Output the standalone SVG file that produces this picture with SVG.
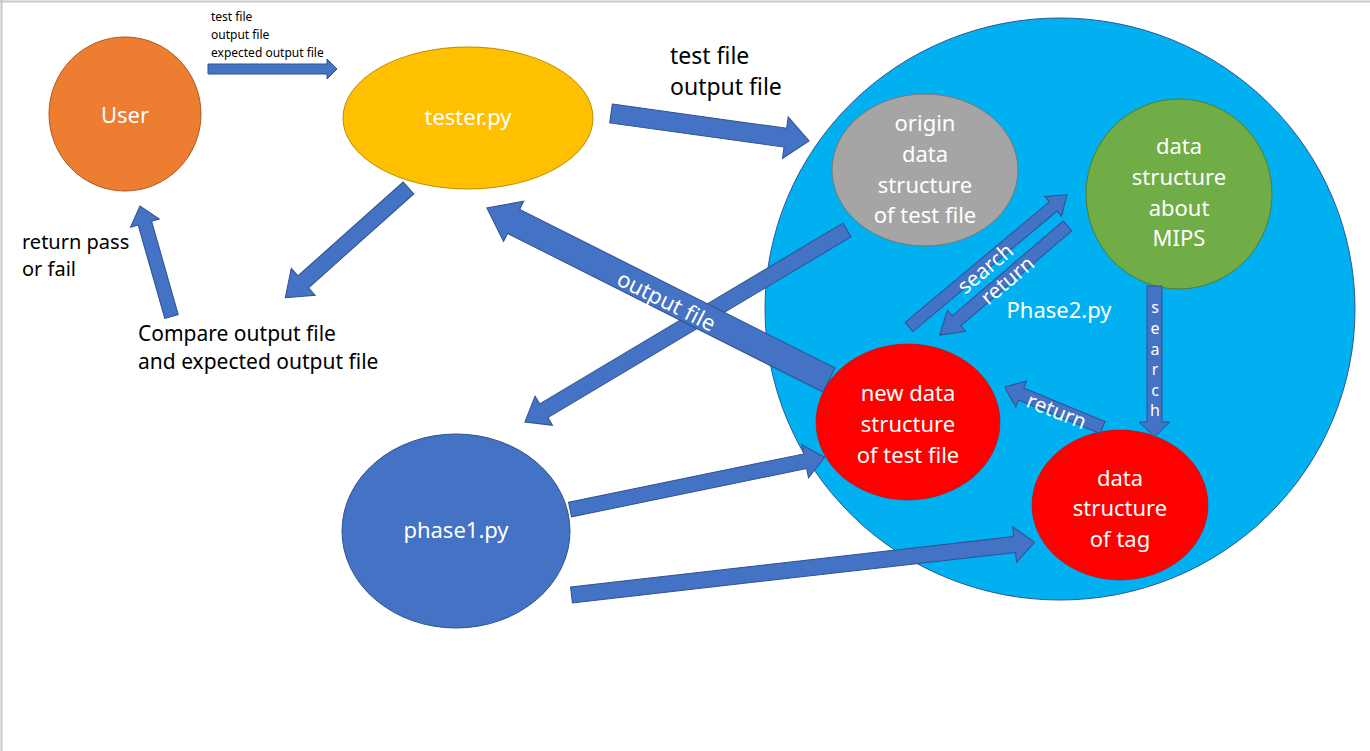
<svg xmlns="http://www.w3.org/2000/svg" width="1370" height="751" viewBox="0 0 1370 751">
<style>
  text { font-family: "Noto Sans", "Liberation Sans", sans-serif; }
  .nt { fill: #ffffff; font-size: 22px; text-anchor: middle; }
  .lb { fill: #000000; font-size: 20px; }
  .sm { fill: #000000; font-size: 12px; }
  .al { fill: #ffffff; font-size: 21px; text-anchor: middle; }
  .arr { fill: #4472C4; stroke: #2F528F; stroke-width: 1; }
</style>
<rect x="0" y="0" width="1370" height="751" fill="#ffffff"/>
<line x1="0" y1="1.5" x2="1370" y2="1.5" stroke="#c8c8c8" stroke-width="2"/>
<line x1="1.5" y1="0" x2="1.5" y2="751" stroke="#c8c8c8" stroke-width="2"/>

<g id="phase2">
  <ellipse cx="1060" cy="309" rx="295" ry="291" fill="#00B0F0" stroke="#2F5597" stroke-width="1"/>
  <text class="nt" x="1059" y="318">Phase2.py</text>
</g>
<g id="user">
  <ellipse cx="125" cy="114" rx="76" ry="77" fill="#ED7D31" stroke="#AE5A21" stroke-width="1"/>
  <text class="nt" x="125" y="123">User</text>
</g>
<g id="tester">
  <ellipse cx="468" cy="118" rx="125" ry="71" fill="#FFC000" stroke="#BC8C00" stroke-width="1"/>
  <text class="nt" x="468" y="125">tester.py</text>
</g>
<g id="origin">
  <ellipse cx="925" cy="170" rx="93" ry="76" fill="#A5A5A5" stroke="#787878" stroke-width="1"/>
  <text class="nt" x="925" y="131">origin</text>
  <text class="nt" x="925" y="162">data</text>
  <text class="nt" x="925" y="193">structure</text>
  <text class="nt" x="925" y="223">of test file</text>
</g>
<g id="mips">
  <ellipse cx="1179" cy="194" rx="93" ry="95" fill="#70AD47" stroke="#507E32" stroke-width="1"/>
  <text class="nt" x="1179" y="154">data</text>
  <text class="nt" x="1179" y="185">structure</text>
  <text class="nt" x="1179" y="216">about</text>
  <text class="nt" x="1179" y="246">MIPS</text>
</g>
<g id="newdata">
  <ellipse cx="908" cy="422" rx="92" ry="78" fill="#FF0000" stroke="#C00000" stroke-width="0.5"/>
  <text class="nt" x="908" y="401">new data</text>
  <text class="nt" x="908" y="432">structure</text>
  <text class="nt" x="908" y="463">of test file</text>
</g>
<g id="tag">
  <ellipse cx="1120" cy="505" rx="88" ry="75" fill="#FF0000" stroke="#C00000" stroke-width="0.5"/>
  <text class="nt" x="1120" y="486">data</text>
  <text class="nt" x="1120" y="516">structure</text>
  <text class="nt" x="1120" y="547">of tag</text>
</g>
<g id="phase1">
  <ellipse cx="456" cy="531" rx="114" ry="97" fill="#4472C4" stroke="#2F528F" stroke-width="1"/>
  <text class="nt" x="456" y="538">phase1.py</text>
</g>

<g id="connectors">
  <polygon class="arr" transform="translate(208,69)" points="0,-5 119,-5 119,-10 129,0 119,10 119,5 0,5"/>
  <polygon class="arr" transform="translate(611,113.5) rotate(7.9)" points="0,-9.5 176,-9.5 176,-21 200,0 176,21 176,9.5 0,9.5"/>
  <polygon class="arr" transform="translate(408.5,188) rotate(138.3)" points="0,-8 141,-8 141,-18 165,0 141,18 141,8 0,8"/>
  <polygon class="arr" transform="translate(171.5,316.5) rotate(-105.9)" points="0,-7 97,-7 97,-15 115,0 97,15 97,7 0,7"/>
  <polygon class="arr" transform="translate(847,230) rotate(149.2)" points="0,-8 353,-8 353,-17 375,0 353,17 353,8 0,8"/>
  <polygon class="arr" transform="translate(829,380) rotate(-153.3)" points="0,-13.5 353,-13.5 353,-22.5 383,0 353,22.5 353,13.5 0,13.5"/>
  <polygon class="arr" transform="translate(570,509.5) rotate(-11.6)" points="0,-7.5 240,-7.5 240,-17 260,0 240,17 240,7.5 0,7.5"/>
  <polygon class="arr" transform="translate(571.5,595) rotate(-6.5)" points="0,-8 446,-8 446,-18 466,0 446,18 446,8 0,8"/>
  <polygon class="arr" transform="translate(909,327) rotate(-39.9)" points="0,-6 188,-6 188,-13 206,0 188,13 188,6 0,6"/>
  <polygon class="arr" transform="translate(1067.5,226) rotate(139.5)" points="0,-6.5 146,-6.5 146,-14 168,0 146,14 146,6.5 0,6.5"/>
  <polygon class="arr" transform="translate(1154.5,286) rotate(90)" points="0,-7.5 136,-7.5 136,-15.5 151,0 136,15.5 136,7.5 0,7.5"/>
  <polygon class="arr" transform="translate(1102.5,427.5) rotate(-157.6)" points="0,-6.5 88,-6.5 88,-14 106,0 88,14 88,6.5 0,6.5"/>
</g>

<g id="labels">
  <text class="sm" x="211" y="21">test file</text>
  <text class="sm" x="211" y="39">output file</text>
  <text class="sm" x="211" y="57">expected output file</text>
  <text class="lb" x="670" y="64" style="font-size:23px">test file</text>
  <text class="lb" x="670" y="95" style="font-size:23px">output file</text>
  <text class="lb" x="22" y="249">return pass</text>
  <text class="lb" x="22" y="276">or fail</text>
  <text class="lb" x="138" y="341" style="font-size:21px">Compare output file</text>
  <text class="lb" x="138" y="369" style="font-size:21px">and expected output file</text>
  <text class="al" transform="translate(663,308) rotate(26.7)" style="font-size:22px">output file</text>
  <text class="al" transform="translate(990,274) rotate(-40)">search</text>
  <text class="al" transform="translate(1012,286) rotate(-40)">return</text>
  <text class="al" transform="translate(1054,418) rotate(22)">return</text>
  <g class="al" style="font-size:16px">
    <text x="1155" y="313">s</text>
    <text x="1155" y="334">e</text>
    <text x="1155" y="355">a</text>
    <text x="1155" y="375">r</text>
    <text x="1155" y="396">c</text>
    <text x="1155" y="416">h</text>
  </g>
</g>
</svg>
